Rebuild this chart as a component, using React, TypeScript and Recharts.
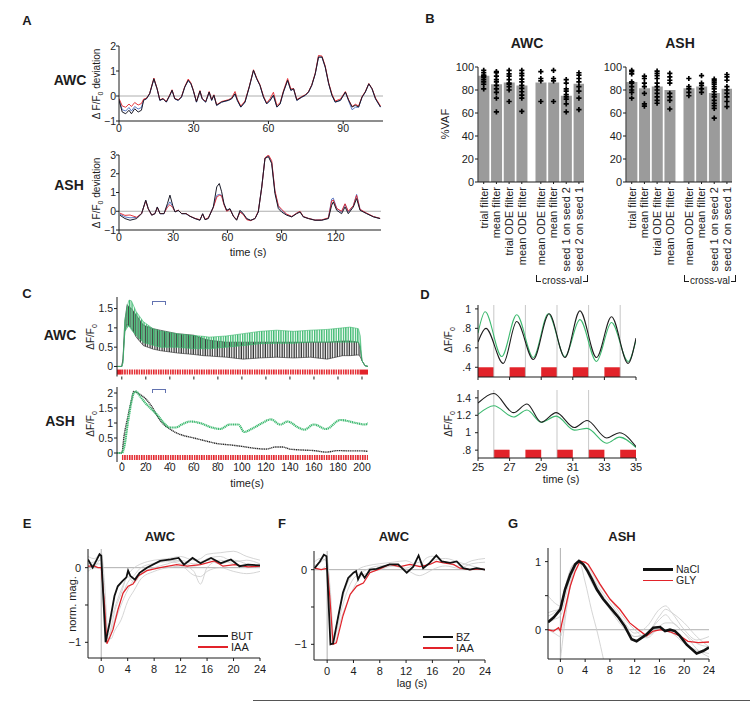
import React from 'react'
import {
  LineChart,
  Line,
  XAxis,
  YAxis,
  ReferenceLine,
  ReferenceArea,
  ComposedChart,
  Bar,
  Scatter,
  Area,
} from 'recharts'

const FONT = '"Liberation Sans", Arial, Helvetica, sans-serif'
const INK = '#1c1c1c'
const RED = '#e2232a'
const GREEN = '#3cb96f'
const BLUE = '#4a6cc0'
const GREY = '#cacaca'
const ZERO = '#9a9a9a'

// ---------- A: model fits, time (s) vs dF/F0 deviation
const aAwcTime = [0, 1.3, 2.7, 4, 5, 6.3, 7.7, 9, 9.9, 11, 12.3, 14, 15.3, 16.4, 17.7, 19, 20.4, 21.3, 22.4, 23.8, 25.1, 26.4, 27.8, 28.9, 29.8, 31.1, 32.5, 33.4, 34.8, 36.2, 37.2, 38.1, 39.2, 41.2, 43.9, 45.2, 46.6, 47.5, 48.9, 50.6, 52.3, 54, 55.3, 56.6, 58, 59.3, 60.7, 62, 63.4, 64.7, 66, 67.7, 69, 70.1, 71.4, 73.4, 74.8, 76.1, 77.4, 78.8, 80.1, 81.5, 82.8, 84.2, 85.5, 86.8, 88.9, 90.9, 92.2, 93.6, 94.9, 96.2, 97.6, 98.9, 100.3, 101.6, 103, 105]
const aAwcBlack = [-0.17, -0.64, -0.71, -0.57, -0.71, -0.51, -0.64, -0.57, -0.17, -0.11, 0.09, 0.69, 0.29, -0.17, -0.11, -0.24, 0.03, 0.23, -0.11, -0.17, -0.04, 0.36, 0.63, 0.49, 0.23, -0.24, 0.2, -0.11, -0.24, 0.16, -0.17, 0.03, -0.37, -0.24, -0.17, -0.11, 0.09, -0.17, -0.44, -0.24, 0.36, 1.03, 0.69, 0.43, -0.04, -0.31, -0.17, 0.03, -0.44, -0.31, 0.16, 0.63, 0.23, 0.29, -0.17, -0.04, 0.03, 0.16, 0.43, 0.89, 1.56, 1.56, 1.16, 0.49, 0.03, -0.24, -0.17, 0.16, -0.17, -0.44, -0.37, -0.44, -0.04, 0.16, 0.49, 0.29, -0.11, -0.44]
const aAwcRed = [-0.1, -0.4, -0.45, -0.32, -0.42, -0.26, -0.36, -0.3, -0.12, -0.09, 0.1, 0.72, 0.3, -0.15, -0.1, -0.22, 0.05, 0.25, -0.1, -0.15, -0.02, 0.38, 0.68, 0.52, 0.25, -0.22, 0.22, -0.1, -0.22, 0.18, -0.15, 0.05, -0.35, -0.22, -0.15, -0.08, 0.18, -0.12, -0.4, -0.2, 0.38, 1.05, 0.72, 0.45, 0, -0.28, -0.1, 0.15, -0.38, -0.27, 0.2, 0.7, 0.28, 0.3, -0.14, -0.02, 0.05, 0.18, 0.45, 0.92, 1.62, 1.6, 1.2, 0.52, 0.08, -0.2, -0.12, 0.18, -0.15, -0.42, -0.33, -0.4, -0.02, 0.18, 0.5, 0.3, -0.08, -0.4]
const aAwcBlue = [-0.14, -0.55, -0.6, -0.46, -0.6, -0.42, -0.52, -0.46, -0.15, -0.12, 0.08, 0.67, 0.28, -0.18, -0.12, -0.25, 0.02, 0.22, -0.12, -0.18, -0.05, 0.35, 0.62, 0.48, 0.22, -0.25, 0.19, -0.12, -0.25, 0.15, -0.18, 0.02, -0.38, -0.25, -0.18, -0.12, 0.08, -0.18, -0.45, -0.25, 0.35, 1.02, 0.68, 0.42, -0.05, -0.32, -0.18, 0.02, -0.45, -0.32, 0.15, 0.62, 0.22, 0.28, -0.18, -0.05, 0.02, 0.15, 0.42, 0.88, 1.55, 1.55, 1.15, 0.48, 0.02, -0.25, -0.18, 0.15, -0.2, -0.55, -0.45, -0.45, -0.05, 0.15, 0.48, 0.28, -0.12, -0.45]

const aAshTime = [0.5, 3.3, 6.1, 9.8, 12.5, 14.8, 16.2, 18.1, 19.9, 21.2, 22.7, 24.9, 26.8, 28.2, 29.7, 31, 32.8, 34.7, 37.1, 39.3, 42.1, 44.8, 46.3, 47.6, 49.4, 52.2, 54.1, 55.5, 56.8, 58.1, 59.6, 61.4, 63.3, 65.1, 67, 68.8, 70.7, 72.9, 75.3, 77.1, 79, 80.8, 82.7, 84.5, 86.3, 88.2, 90, 92.8, 95.6, 98.3, 100.2, 102, 104.8, 108.5, 112.2, 115.9, 117.7, 118.6, 120.5, 123.2, 125.1, 126.9, 129.7, 131.5, 133.4, 137.1, 140.8, 144.5]
const aAshBlack = [-0.21, -0.39, -0.48, -0.39, -0.13, 0.59, 0.14, -0.21, -0.13, 0.23, -0.13, -0.13, 0.41, 0.86, 0.32, -0.04, 0.05, -0.13, -0.13, -0.27, -0.39, -0.48, -0.13, -0.45, -0.39, 0.23, 1.3, 1.48, 1.04, 0.41, 0.05, 0.14, -0.27, -0.48, 0.05, -0.13, -0.39, -0.48, -0.39, -0.04, 1.3, 2.82, 2.91, 2.55, 0.95, 0.14, -0.04, -0.21, -0.3, -0.13, -0.04, -0.3, -0.39, -0.48, -0.48, -0.39, 0.32, 0.5, 0.05, -0.13, 0.23, -0.13, 0.23, 0.68, 0.05, -0.13, -0.3, -0.39]
const aAshRed = [-0.1, -0.22, -0.2, -0.32, -0.12, 0.55, 0.12, -0.2, -0.12, 0.2, -0.12, -0.12, 0.22, 0.35, 0.2, -0.02, 0.06, -0.12, -0.12, -0.26, -0.38, -0.45, -0.15, -0.43, -0.35, 0.2, 0.75, 0.85, 0.82, 0.35, 0, 0.1, -0.25, -0.45, -0.05, -0.18, -0.45, -0.5, -0.38, 0, 1.25, 2.85, 3.0, 2.7, 1.1, 0.3, 0.1, -0.15, -0.28, -0.1, 0, -0.28, -0.38, -0.47, -0.46, -0.35, 0.55, 0.6, 0.15, 0, 0.4, 0, 0.3, 0.85, 0.1, -0.1, -0.28, -0.38]
const aAshBlue = [-0.15, -0.3, -0.35, -0.33, -0.12, 0.58, 0.13, -0.2, -0.13, 0.22, -0.13, -0.13, 0.3, 0.5, 0.25, -0.03, 0.05, -0.13, -0.13, -0.27, -0.39, -0.47, -0.14, -0.44, -0.37, 0.22, 0.85, 0.9, 0.85, 0.38, 0.03, 0.12, -0.26, -0.46, -0.02, -0.15, -0.42, -0.49, -0.38, -0.02, 1.28, 2.84, 2.95, 2.6, 1.05, 0.25, 0.05, -0.18, -0.29, -0.11, -0.02, -0.29, -0.38, -0.47, -0.47, -0.37, 0.65, 0.7, 0.15, -0.05, 0.38, -0.05, 0.3, 0.9, 0.1, -0.12, -0.29, -0.39]

// ---------- B: %VAF per model
const bNames = ['trial filter', 'mean filter', 'trial ODE filter', 'mean ODE filter', 'mean ODE filter', 'mean filter', 'seed 1 on seed 2', 'seed 2 on seed 1']
const bAwcVaf = [92.5, 85, 86.5, 84, 86.5, 86.5, 75, 85.5]
const bAshVaf = [87, 81.5, 83, 80, 81.5, 83, 77.5, 81]
const bAwcPts = [
  [97, 95, 93, 92, 91, 89, 87, 85, 81],
  [96, 95, 92, 89, 87, 84, 81, 78, 73, 61],
  [97, 94, 92, 89, 86, 85, 83, 80, 70],
  [97, 94.5, 92.5, 89.5, 87, 84, 81.5, 78.5, 75.5, 73, 61.5],
  [96, 90, 88, 70],
  [97, 90, 88, 70],
  [89, 86, 81, 79, 76, 74, 72, 68, 61],
  [95, 93, 90, 87, 83, 79, 73, 63],
]
const bAshPts = [
  [97, 96, 94, 87, 86, 83, 80, 78, 73],
  [92, 90, 86, 83, 77, 68, 66],
  [96.5, 94.5, 92.5, 90, 86, 83, 80, 77, 74, 71, 68.5],
  [94.5, 91.5, 88.5, 86, 77, 74, 71, 63.5],
  [90, 83, 81, 78, 75],
  [92.5, 86, 84, 81, 78],
  [89.5, 88, 86.5, 85, 83, 81, 78.5, 76, 74, 71, 68.5, 66.5, 64, 55.5],
  [93.5, 91.5, 88.5, 83, 80, 77, 74, 70, 65.5],
]

// ---------- C: long pulse train responses (oscillation envelope lo/hi)
const cAwcTime = [-4, 0, 1, 2.5, 4.4, 6, 8, 12, 18, 26, 32, 46, 60, 68, 73, 87, 101, 115, 129, 143, 157, 171, 184, 190, 197, 198.5, 200, 202.5, 205]
const cAwcGreenLo = [0, 0, 0.1, 0.9, 1.0, 1.05, 0.95, 0.8, 0.62, 0.55, 0.5, 0.5, 0.46, 0.46, 0.46, 0.5, 0.54, 0.59, 0.6, 0.6, 0.63, 0.63, 0.63, 0.63, 0.63, 0.5, 0.15, 0.02, 0]
const cAwcGreenHi = [0, 0, 0.1, 1.2, 1.55, 1.72, 1.7, 1.42, 1.16, 0.98, 0.92, 0.85, 0.8, 0.78, 0.76, 0.79, 0.85, 0.91, 0.94, 0.91, 0.94, 0.96, 1.0, 1.02, 0.98, 0.8, 0.15, 0.02, 0]
const cAwcBlackLo = [0, 0, 0.2, 0.9, 1.1, 1.05, 1.0, 0.76, 0.54, 0.45, 0.41, 0.35, 0.31, 0.28, 0.27, 0.24, 0.19, 0.22, 0.24, 0.22, 0.24, 0.19, 0.28, 0.28, 0.3, 0.25, 0.15, 0.02, 0]
const cAwcBlackHi = [0, 0, 0.2, 1.16, 1.6, 1.55, 1.5, 1.33, 1.07, 0.98, 0.94, 0.85, 0.81, 0.72, 0.68, 0.63, 0.63, 0.63, 0.63, 0.63, 0.63, 0.63, 0.66, 0.66, 0.63, 0.5, 0.15, 0.02, 0]

const cAshGreenTime = [-4, 0, 2, 5, 8, 10, 12, 15, 20, 25, 30, 35, 40, 45, 50, 57, 65, 75, 82, 90, 97, 102, 108, 117, 124, 132, 138, 147, 152, 160, 170, 182, 195, 202, 208]
const cAshGreen = [0, 0, 0.2, 1.0, 1.7, 2.0, 2.05, 1.9, 1.65, 1.45, 1.25, 1.0, 0.85, 0.85, 0.95, 1.05, 1.0, 0.85, 0.8, 0.95, 0.95, 0.7, 0.8, 1.0, 1.12, 0.95, 1.05, 0.85, 0.78, 0.95, 0.8, 1.1, 1.0, 0.95, 1.05]
const cAshBlackTime = [-4, 0, 2, 5, 8, 10, 14, 20, 25, 30, 35, 40, 45, 50, 60, 70, 80, 90, 100, 110, 120, 128, 134, 140, 150, 160, 170, 180, 190, 200, 208]
const cAshBlack = [0, 0, 0.6, 1.2, 1.75, 2.05, 1.98, 1.8, 1.55, 1.2, 0.95, 0.8, 0.68, 0.6, 0.5, 0.4, 0.31, 0.27, 0.22, 0.16, 0.13, 0.2, 0.2, 0.13, 0.1, 0.08, 0.03, 0.08, 0.07, 0.07, 0.04]

const cStimPeriod = 2
const cAwcStimSolid = [[-4, 0], [198, 205]]
const cAwcStimTrain = [0, 198]
const cAshStimTrain = [0, 205]
const cZoomWindow = [25, 35]

// ---------- D: zoom 25-35 s
const dTopGreenTime = [25, 25.45, 26.5, 27.45, 28.5, 29.45, 30.5, 31.45, 32.5, 33.45, 34.5, 35]
const dTopGreen = [0.75, 0.97, 0.51, 0.94, 0.5, 0.95, 0.51, 0.89, 0.46, 0.86, 0.46, 0.68]
const dTopBlackTime = [25, 25.5, 26.6, 27.45, 28.5, 29.5, 30.5, 31.45, 32.5, 33.45, 34.5, 35]
const dTopBlack = [0.66, 0.8, 0.44, 0.87, 0.48, 0.95, 0.5, 0.98, 0.5, 0.92, 0.44, 0.7]
const dBotTime = [25, 26, 27.25, 28.1, 29, 29.95, 31.1, 31.9, 33.15, 33.95, 35]
const dBotBlack = [1.34, 1.45, 1.23, 1.33, 1.12, 1.23, 1.06, 1.14, 0.94, 1.0, 0.84]
const dBotGreen = [1.21, 1.31, 1.18, 1.26, 1.12, 1.19, 1.03, 1.05, 0.88, 0.95, 0.83]
const dTopPulses = [25, 27, 29, 31, 33]
const dBotPulses = [26, 28, 30, 32, 34]
const dTopMarks = [26, 28, 30, 32, 34]
const dBotMarks = [26, 30, 32]

// ---------- E/F/G: impulse responses (lag s, normalised magnitude)
const eButLag = [-2, -1.3, -0.77, -0.26, 0, 0.66, 1.27, 2.0, 2.5, 3.2, 3.8, 4.06, 4.4, 5.1, 5.8, 6.9, 8.9, 10.5, 11.7, 12.5, 13.8, 15, 16.6, 18.1, 19.6, 20.9, 22.2, 24]
const eBut = [0.11, 0, 0.09, 0.18, 0.16, -1.0, -0.74, -0.38, -0.25, -0.18, -0.13, -0.04, -0.11, -0.16, -0.07, 0, 0.09, 0.11, 0.13, 0.04, 0.13, 0.06, 0.13, 0.06, 0.11, 0.02, 0.04, 0.03]
const eIaaLag = [-2, -1, -0.5, 0, 0.5, 0.86, 1.78, 2.54, 3.3, 4.06, 4.8, 5.6, 6.9, 8.9, 11.4, 13, 15, 17.1, 18.4, 20.2, 22.2, 24]
const eIaa = [0.02, 0.02, 0, 0, -0.5, -1.02, -0.83, -0.56, -0.34, -0.25, -0.22, -0.11, -0.04, 0, 0.04, 0.02, 0.04, 0.09, 0.02, 0.04, 0.01, 0.02]
const efGreyLag = [-2, -1, 0, 0.5, 1, 1.5, 2, 3, 4, 5, 6, 8, 10, 12, 14, 15, 16, 18, 20, 22, 24]
const eGrey = [
  [0.05, 0.08, 0.1, -0.6, -1.0, -0.9, -0.75, -0.5, -0.3, -0.15, -0.05, 0.05, 0.08, 0.05, -0.05, -0.22, 0, 0.1, 0.05, 0, 0.02],
  [0.15, 0.12, 0.2, -0.2, -0.85, -0.7, -0.55, -0.3, -0.1, 0, 0.05, 0.1, 0.12, 0.15, 0.1, 0.12, 0.18, 0.2, 0.22, 0.15, 0.1],
  [-0.05, 0, 0, -0.5, -0.95, -0.95, -0.85, -0.7, -0.45, -0.3, -0.15, -0.05, 0, 0.02, -0.1, -0.12, -0.05, 0, -0.05, -0.08, -0.05],
  [0, 0.05, 0.05, -0.7, -0.95, -0.8, -0.6, -0.35, -0.12, -0.2, -0.08, 0, 0.05, 0.1, 0.05, 0.08, 0.1, 0.05, 0.1, 0.05, 0],
  [0.1, 0.02, 0.12, -0.4, -0.9, -0.85, -0.7, -0.42, -0.2, -0.1, 0, 0.06, 0.1, 0.08, 0.02, 0.05, 0.12, 0.15, 0.08, 0.1, 0.05],
]
const fBzLag = [-1.9, -1.1, -0.5, -0.1, 0.5, 0.9, 1.7, 2.4, 3.2, 4.0, 4.4, 4.7, 5.2, 5.7, 6.5, 7.5, 8.5, 9.5, 10.8, 12.1, 13.1, 13.9, 14.6, 15.6, 16.6, 17.4, 18.7, 19.7, 20.7, 21.7, 22.7, 24]
const fBz = [0.02, 0.11, 0.2, 0.18, -1.0, -0.99, -0.62, -0.31, -0.11, -0.04, -0.02, -0.13, -0.04, -0.11, 0, 0.01, 0.04, 0.07, 0.07, -0.04, 0.04, 0.19, 0.02, 0.09, 0.19, 0.11, 0.09, 0.11, 0.02, 0, 0.02, 0]
const fIaaLag = [-1.9, -0.9, 0, 0.4, 0.9, 1.4, 2.4, 3.5, 4.5, 5.5, 6.5, 8, 9.5, 11.1, 12.6, 14.1, 15.6, 16.6, 17.7, 19.2, 20.2, 21.7, 23.2, 24]
const fIaa = [0.02, 0, 0.02, -0.36, -1.0, -0.98, -0.62, -0.33, -0.22, -0.18, -0.04, 0.01, 0.07, 0.04, 0.07, 0.04, 0.07, 0.11, 0.09, 0.07, 0.02, 0, 0.01, 0]
const fGrey = [
  [0.05, 0.1, 0.15, -0.5, -0.95, -0.8, -0.6, -0.3, -0.12, -0.05, 0, 0.05, 0.05, 0.02, 0.1, 0.05, 0.12, 0.15, 0.1, 0.05, 0],
  [0, 0, 0.05, -0.7, -1.0, -0.9, -0.7, -0.45, -0.25, -0.1, -0.05, 0, 0.05, 0, -0.08, -0.05, 0, 0.05, 0.02, 0.08, 0.1],
  [0.1, 0.15, 0.1, -0.3, -0.9, -0.7, -0.5, -0.2, -0.05, 0.02, 0.05, 0.08, 0.1, 0.12, 0.05, 0.15, 0.18, 0.1, 0.05, 0.12, 0.15],
]
const gNaclLag = [-2, -1.1, 0, 0.75, 1.6, 2.4, 3.0, 3.7, 4.4, 5.1, 5.9, 6.9, 8.3, 9.4, 10.4, 11.5, 12.3, 13.1, 13.9, 15, 16.1, 16.9, 17.7, 18.5, 19.3, 20.4, 22, 23.1, 24]
const gNacl = [0.11, 0.18, 0.3, 0.59, 0.81, 0.96, 1.01, 0.96, 0.86, 0.74, 0.59, 0.45, 0.3, 0.18, 0.05, -0.14, -0.17, -0.12, -0.07, 0.03, 0.04, -0.02, 0, -0.02, -0.09, -0.22, -0.35, -0.31, -0.26]
const gGlyLag = [-2, -1.1, -0.3, 0, 0.2, 0.75, 1.6, 2.4, 3.2, 4.0, 4.5, 5.3, 6.4, 8, 9.6, 11.2, 12.6, 13.9, 15, 16.3, 17.7, 19.3, 20.6, 22.3, 24]
const gGly = [0, -0.02, 0.03, -0.02, 0.08, 0.3, 0.64, 0.86, 1.01, 0.99, 0.96, 0.84, 0.67, 0.45, 0.3, 0.1, 0, -0.09, -0.02, 0, -0.03, -0.09, -0.17, -0.19, -0.18]
const gGreyLag = [-2, -1, 0, 1, 2, 3, 4, 5, 6, 7, 8, 10, 12, 14, 16, 17, 18, 20, 22, 24]
const gGrey = [
  [0.2, 0.25, 0.35, 0.7, 0.95, 1.0, 0.7, 0.3, -0.05, -0.45, null, null, null, null, null, null, null, null, null, null],
  [null, null, -0.45, 0.3, 0.8, 0.98, 0.9, 0.7, 0.55, 0.45, 0.3, 0.05, -0.1, -0.05, 0.2, 0.3, 0.25, 0.1, -0.1, -0.25],
  [0.5, 0.4, 0.35, 0.7, 0.95, 1.0, 0.95, 0.8, 0.65, 0.52, 0.4, 0.15, -0.05, 0.05, 0.3, 0.35, 0.25, 0, -0.15, -0.1],
  [0.1, 0.15, 0.2, 0.55, 0.9, 1.0, 0.9, 0.72, 0.55, 0.42, 0.3, 0.1, -0.15, -0.1, 0, -0.02, -0.05, -0.2, -0.3, -0.35],
  [0.25, 0.28, 0.3, 0.65, 0.92, 0.98, 1.0, 0.85, 0.7, 0.57, 0.45, 0.2, 0, -0.12, 0.05, 0.1, 0.1, -0.05, -0.2, -0.25],
  [0, -0.05, -0.1, 0.4, 0.85, 1.0, 0.95, 0.8, 0.62, 0.48, 0.35, 0.12, -0.1, -0.05, 0.15, 0.22, 0.12, -0.05, -0.28, -0.4],
]

// ---------- layout helpers
type Box = { x: number; y: number; w: number; h: number }
const YW = 40
const PAD = 6
const frame = (b: Box, xh: number) => ({
  width: b.w + YW + PAD,
  height: b.h + PAD + xh,
  margin: { top: PAD, right: PAD, left: 0, bottom: 0 },
})
const at = (b: Box): React.CSSProperties => ({ position: 'absolute', left: b.x - YW, top: b.y - PAD })
const pxOf = (b: Box, dom: number[], t: number) => b.x + ((t - dom[0]) / (dom[1] - dom[0])) * b.w

const tickFont = (size: number) => ({ fontSize: size, fill: INK, fontFamily: FONT })
const ax = { stroke: INK, strokeWidth: 1 }
const minus = (v: number) => (v < 0 ? '\u2212' + Math.abs(v) : String(v))
const dotFmt = (v: number) => (Number.isInteger(v) ? String(v) : String(v).replace(/^0\./, '.'))
const zip = (xs: number[], ys: (number | null)[]) => xs.map((t, i) => ({ t, v: ys[i] }))

function Txt({ x, y, size = 11, bold = false, rot = false, children }: { x: number; y: number; size?: number; bold?: boolean; rot?: boolean; children: React.ReactNode }) {
  return (
    <div
      style={{
        position: 'absolute',
        left: x,
        top: y,
        transform: `translate(-50%, -50%)${rot ? ' rotate(-90deg)' : ''}`,
        fontSize: size,
        fontWeight: bold ? 700 : 400,
        whiteSpace: 'nowrap',
        lineHeight: 1,
        color: INK,
      }}
    >
      {children}
    </div>
  )
}

const Sub = ({ children }: { children: React.ReactNode }) => (
  <span style={{ fontSize: '0.7em', verticalAlign: '-0.3em' }}>{children}</span>
)

function Key({ x, y, color, width, label, size = 11 }: { x: number; y: number; color: string; width: number; label: string; size?: number }) {
  return (
    <>
      <div style={{ position: 'absolute', left: x, top: y - width / 2, width: 30, height: width, background: color }} />
      <div style={{ position: 'absolute', left: x + 33, top: y - 4.5, fontSize: size, lineHeight: '9px', color: INK }}>{label}</div>
    </>
  )
}

// ---------- boxes (plot areas)
const A1: Box = { x: 119, y: 46, w: 264, h: 75 }
const A2: Box = { x: 119, y: 155, w: 262, h: 75 }
const B1: Box = { x: 478, y: 67, w: 106, h: 115 }
const B2: Box = { x: 626, y: 67, w: 106, h: 115 }
const C1: Box = { x: 117, y: 296.5, w: 251, h: 79.5 }
const C2: Box = { x: 117, y: 387, w: 251, h: 75 }
const D1: Box = { x: 478, y: 305, w: 158, h: 72 }
const D2: Box = { x: 478, y: 390, w: 158, h: 68 }
const E1: Box = { x: 88, y: 549, w: 172, h: 109 }
const F1: Box = { x: 314, y: 551, w: 171, h: 109 }
const G1: Box = { x: 548, y: 548, w: 161, h: 111 }

const cDom = [-4, 205]
const cK = C1.w / (cDom[1] - cDom[0])
const stimW = cStimPeriod * cK
const stimX0 = YW + (0 - cDom[0]) * cK

// B helpers
const bSlot = bNames.map((_, i) => i + 1 + (i >= 4 ? 0.5 : 0))
const bRows = (vals: number[]) => vals.map((v, i) => ({ pos: bSlot[i], vaf: v }))
const bScatter = (pts: number[][]) => pts.flatMap((arr, i) => arr.map((v) => ({ pos: bSlot[i], vaf: v })))

const Plus = (p: any) => (
  <path d={`M${p.cx - 2.6},${p.cy}h5.2M${p.cx},${p.cy - 2.6}v5.2`} stroke="#000" strokeWidth={1.7} />
)

const RotTick = (p: any) => {
  const i = bSlot.indexOf(p.payload.value)
  return (
    <text x={p.x} y={p.y} transform={`rotate(-90 ${p.x} ${p.y})`} textAnchor="end" dx={-1} dy="0.36em" fontSize={11} fontFamily={FONT} fill={INK}>
      {bNames[i]}
    </text>
  )
}

function VafChart({ box, vals, pts }: { box: Box; vals: number[]; pts: number[][] }) {
  return (
    <div style={at(box)}>
      <ComposedChart {...frame(box, 100)} data={bRows(vals)}>
        <XAxis type="number" dataKey="pos" domain={[0.55, 8.9]} ticks={bSlot} interval={0} allowDataOverflow height={100} tickSize={2} tickMargin={2} tick={<RotTick />} axisLine={ax} tickLine={ax} />
        <YAxis type="number" domain={[0, 100]} ticks={[0, 20, 40, 60, 80, 100]} interval={0} width={YW} tickSize={3} tickMargin={1} tick={tickFont(11)} axisLine={ax} tickLine={ax} />
        <Bar dataKey="vaf" barSize={11} fill="#9b9b9b" isAnimationActive={false} />
        <Scatter data={bScatter(pts)} dataKey="vaf" shape={Plus} isAnimationActive={false} />
      </ComposedChart>
    </div>
  )
}

function CrossVal({ x0, x1 }: { x0: number; x1: number }) {
  const mid = (x0 + x1) / 2
  return (
    <>
      <div style={{ position: 'absolute', left: x0, top: 275, width: 4, height: 6, borderLeft: `1px solid ${INK}`, borderBottom: `1px solid ${INK}` }} />
      <div style={{ position: 'absolute', left: x1 - 5, top: 275, width: 4, height: 6, borderRight: `1px solid ${INK}`, borderBottom: `1px solid ${INK}` }} />
      <Txt x={mid} y={281} size={10}>cross-val</Txt>
    </>
  )
}

function Bracket({ y }: { y: number }) {
  const l = pxOf(C1, cDom, cZoomWindow[0])
  const r = pxOf(C1, cDom, cZoomWindow[1])
  return <div style={{ position: 'absolute', left: l, top: y, width: r - l, height: 3, borderTop: '1.3px solid #6272b0', borderLeft: '1.3px solid #6272b0', borderRight: '1.3px solid #6272b0' }} />
}

function IrfChart({ box, yDom, yTicks, grey, greyLag, main, xh }: { box: Box; yDom: number[]; yTicks: number[]; grey: (number | null)[][]; greyLag: number[]; main: { lag: number[]; v: number[]; color: string; w: number }[]; xh: number }) {
  return (
    <div style={at(box)}>
      <LineChart {...frame(box, xh)}>
        <XAxis type="number" dataKey="t" domain={[-2, 24]} ticks={[0, 4, 8, 12, 16, 20, 24]} interval={0} allowDataOverflow height={xh} tickSize={3} tickMargin={4} tick={tickFont(11)} axisLine={ax} tickLine={ax} />
        <YAxis type="number" domain={yDom} ticks={yTicks} interval={0} allowDataOverflow width={YW} tickSize={3} tickMargin={4} tick={tickFont(11)} tickFormatter={(v: number) => (v === 0.5 || v === -0.5 ? '' : minus(v))} axisLine={ax} tickLine={ax} />
        <ReferenceLine x={0} stroke={ZERO} strokeWidth={0.8} />
        <ReferenceLine y={0} stroke={ZERO} strokeWidth={0.8} />
        {grey.map((g, i) => (
          <Line key={'g' + i} data={zip(greyLag, g)} dataKey="v" type="monotone" stroke={GREY} strokeWidth={0.8} dot={false} isAnimationActive={false} />
        ))}
        {main.map((m, i) => (
          <Line key={'m' + i} data={zip(m.lag, m.v)} dataKey="v" type="linear" stroke={m.color} strokeWidth={m.w} dot={false} isAnimationActive={false} />
        ))}
      </LineChart>
    </div>
  )
}

export default function App() {
  const aAwcRows = aAwcTime.map((t, i) => ({ t, k: aAwcBlack[i], r: aAwcRed[i], b: aAwcBlue[i] }))
  const aAshRows = aAshTime.map((t, i) => ({ t, k: aAshBlack[i], r: aAshRed[i], b: aAshBlue[i] }))
  const cAwcRows = cAwcTime.map((t, i) => ({ t, g: [cAwcGreenLo[i], cAwcGreenHi[i]], k: [cAwcBlackLo[i], cAwcBlackHi[i]] }))

  const aX = (dom: number[], ticks: number[]) => (
    <XAxis type="number" dataKey="t" domain={dom} ticks={ticks} interval={0} allowDataOverflow height={24} tickSize={3} tickMargin={1} tick={tickFont(10.5)} axisLine={ax} tickLine={ax} />
  )

  return (
    <div style={{ position: 'absolute', left: 0, top: 0, width: 750, height: 702, overflow: 'hidden', background: '#fff', fontFamily: FONT }}>
      <svg width={0} height={0} style={{ position: 'absolute' }}>
        <defs>
          <pattern id="stim" x={stimX0} y={0} width={stimW} height={20} patternUnits="userSpaceOnUse">
            <rect x={0} y={0} width={stimW * 0.62} height={20} fill={RED} />
          </pattern>
          <pattern id="oscG" x={stimX0} y={0} width={stimW} height={20} patternUnits="userSpaceOnUse">
            <rect x={0} y={0} width={stimW * 0.55} height={20} fill={GREEN} />
          </pattern>
          <pattern id="oscK" x={stimX0} y={0} width={stimW} height={20} patternUnits="userSpaceOnUse">
            <rect x={stimW * 0.5} y={0} width={stimW * 0.5} height={20} fill="#333" />
          </pattern>
        </defs>
      </svg>

      {/* ---------------- A ---------------- */}
      <Txt x={27} y={20} size={13} bold>A</Txt>
      <Txt x={70} y={80} size={14} bold>AWC</Txt>
      <Txt x={69} y={185} size={14} bold>ASH</Txt>
      <Txt x={98} y={84} size={10} rot>Δ F/F<Sub>0</Sub> deviation</Txt>
      <Txt x={98} y={193} size={10} rot>Δ F/F<Sub>0</Sub> deviation</Txt>
      <Txt x={248} y={252} size={11}>time (s)</Txt>
      <div style={at(A1)}>
        <LineChart {...frame(A1, 24)} data={aAwcRows}>
          {aX([0, 106], [0, 30, 60, 90])}
          <YAxis type="number" domain={[-1, 2]} ticks={[-1, 0, 1, 2]} interval={0} allowDataOverflow width={YW} tickSize={3} tickMargin={0} tick={tickFont(10.5)} tickFormatter={minus} axisLine={ax} tickLine={ax} />
          <ReferenceLine y={0} stroke={ZERO} strokeWidth={0.8} />
          <Line dataKey="b" stroke={BLUE} strokeWidth={0.9} dot={false} isAnimationActive={false} />
          <Line dataKey="r" stroke={RED} strokeWidth={0.9} dot={false} isAnimationActive={false} />
          <Line dataKey="k" stroke="#1a1a28" strokeWidth={1} dot={false} isAnimationActive={false} />
        </LineChart>
      </div>
      <div style={at(A2)}>
        <LineChart {...frame(A2, 24)} data={aAshRows}>
          {aX([0, 145], [0, 30, 60, 90, 120])}
          <YAxis type="number" domain={[-1, 3]} ticks={[-1, 0, 1, 2, 3]} interval={0} allowDataOverflow width={YW} tickSize={3} tickMargin={0} tick={tickFont(10.5)} tickFormatter={minus} axisLine={ax} tickLine={ax} />
          <ReferenceLine y={0} stroke={ZERO} strokeWidth={0.8} />
          <Line dataKey="b" stroke={BLUE} strokeWidth={0.9} dot={false} isAnimationActive={false} />
          <Line dataKey="r" stroke={RED} strokeWidth={0.9} dot={false} isAnimationActive={false} />
          <Line dataKey="k" stroke="#1a1a28" strokeWidth={1} dot={false} isAnimationActive={false} />
        </LineChart>
      </div>

      {/* ---------------- B ---------------- */}
      <Txt x={430} y={18} size={13} bold>B</Txt>
      <Txt x={527} y={43} size={14} bold>AWC</Txt>
      <Txt x={680} y={43} size={14} bold>ASH</Txt>
      <Txt x={445} y={124} size={11} rot>%VAF</Txt>
      <VafChart box={B1} vals={bAwcVaf} pts={bAwcPts} />
      <VafChart box={B2} vals={bAshVaf} pts={bAshPts} />
      <CrossVal x0={536} x1={588} />
      <CrossVal x0={684} x1={736} />

      {/* ---------------- C ---------------- */}
      <Txt x={27} y={293} size={13} bold>C</Txt>
      <Txt x={60} y={335} size={14} bold>AWC</Txt>
      <Txt x={60} y={421} size={14} bold>ASH</Txt>
      <Txt x={92} y={337} size={10} rot>ΔF/F<Sub>0</Sub></Txt>
      <Txt x={92} y={424} size={10} rot>ΔF/F<Sub>0</Sub></Txt>
      <Txt x={247} y={483} size={11}>time(s)</Txt>
      <Bracket y={301} />
      <Bracket y={389} />
      <div style={at(C1)}>
        <ComposedChart {...frame(C1, 10)} data={cAwcRows}>
          <XAxis type="number" dataKey="t" domain={cDom} ticks={[0, 20, 40, 60, 80, 100, 120, 140, 160, 180, 200]} interval={0} allowDataOverflow height={10} tickSize={3} tickFormatter={() => ''} axisLine={false} tickLine={ax} />
          <YAxis type="number" domain={[-0.26, 1.8]} ticks={[0, 0.5, 1, 1.5]} interval={0} allowDataOverflow width={YW} tickSize={3} tickMargin={1} tick={tickFont(10.5)} axisLine={ax} tickLine={ax} />
          {cAwcStimSolid.map(([a, b], i) => (
            <ReferenceArea key={i} x1={a} x2={b} y1={-0.21} y2={-0.08} fill={RED} fillOpacity={1} stroke="none" />
          ))}
          <ReferenceArea x1={cAwcStimTrain[0]} x2={cAwcStimTrain[1]} y1={-0.21} y2={-0.08} fill="url(#stim)" fillOpacity={1} stroke="none" />
          <Area dataKey="k" type="linear" stroke="#2a2a2a" strokeWidth={0.6} fill="url(#oscK)" fillOpacity={1} dot={false} activeDot={false} isAnimationActive={false} />
          <Area dataKey="g" type="linear" stroke={GREEN} strokeWidth={0.6} fill="url(#oscG)" fillOpacity={1} dot={false} activeDot={false} isAnimationActive={false} />
        </ComposedChart>
      </div>
      <div style={at(C2)}>
        <ComposedChart {...frame(C2, 20)}>
          <XAxis type="number" dataKey="t" domain={cDom} ticks={[0, 20, 40, 60, 80, 100, 120, 140, 160, 180, 200]} interval={0} allowDataOverflow height={20} tickSize={2} tickMargin={0} tick={tickFont(10.5)} axisLine={false} tickLine={ax} />
          <YAxis type="number" domain={[-0.3, 2.2]} ticks={[0, 0.5, 1, 1.5, 2]} interval={0} allowDataOverflow width={YW} tickSize={3} tickMargin={1} tick={tickFont(10.5)} axisLine={ax} tickLine={ax} />
          <ReferenceArea x1={cAshStimTrain[0]} x2={cAshStimTrain[1]} y1={-0.23} y2={-0.07} fill="url(#stim)" fillOpacity={1} stroke="none" />
          <Line data={zip(cAshBlackTime, cAshBlack)} dataKey="v" type="monotone" stroke="#2a2a2a" strokeWidth={1.4} strokeDasharray="1.2 0.6" dot={false} isAnimationActive={false} />
          <Line data={zip(cAshGreenTime, cAshGreen)} dataKey="v" type="monotone" stroke={GREEN} strokeWidth={2.2} strokeDasharray="1.2 0.6" dot={false} isAnimationActive={false} />
        </ComposedChart>
      </div>

      {/* ---------------- D ---------------- */}
      <Txt x={425} y={294} size={13} bold>D</Txt>
      <Txt x={450} y={340} size={10} rot>ΔF/F<Sub>0</Sub></Txt>
      <Txt x={450} y={424} size={10} rot>ΔF/F<Sub>0</Sub></Txt>
      <Txt x={561} y={479} size={11}>time (s)</Txt>
      <div style={at(D1)}>
        <LineChart {...frame(D1, 10)}>
          <XAxis type="number" dataKey="t" domain={[25, 35]} ticks={[25, 27, 29, 31, 33, 35]} interval={0} allowDataOverflow height={10} tickSize={3} tickFormatter={() => ''} axisLine={ax} tickLine={ax} />
          <YAxis type="number" domain={[0.3, 1.04]} ticks={[0.4, 0.6, 0.8, 1]} interval={0} allowDataOverflow width={YW} tickSize={3} tickMargin={4} tick={tickFont(10.5)} tickFormatter={dotFmt} axisLine={ax} tickLine={ax} />
          {dTopMarks.map((m) => (
            <ReferenceLine key={m} x={m} stroke="#b9b9b9" strokeWidth={0.8} />
          ))}
          {dTopPulses.map((p) => (
            <ReferenceArea key={p} x1={p} x2={p + 1} y1={0.3} y2={0.4} fill={RED} fillOpacity={1} stroke="none" />
          ))}
          <Line data={zip(dTopGreenTime, dTopGreen)} dataKey="v" type="monotone" stroke={GREEN} strokeWidth={1.1} dot={false} isAnimationActive={false} />
          <Line data={zip(dTopBlackTime, dTopBlack)} dataKey="v" type="monotone" stroke="#1e1e1e" strokeWidth={1.1} dot={false} isAnimationActive={false} />
        </LineChart>
      </div>
      <div style={at(D2)}>
        <LineChart {...frame(D2, 20)}>
          <XAxis type="number" dataKey="t" domain={[25, 35]} ticks={[25, 27, 29, 31, 33, 35]} interval={0} allowDataOverflow height={20} tickSize={3} tickMargin={2} tick={tickFont(11)} axisLine={ax} tickLine={ax} />
          <YAxis type="number" domain={[0.71, 1.49]} ticks={[0.8, 1, 1.2, 1.4]} interval={0} allowDataOverflow width={YW} tickSize={3} tickMargin={4} tick={tickFont(10.5)} tickFormatter={dotFmt} axisLine={ax} tickLine={ax} />
          {dBotMarks.map((m) => (
            <ReferenceLine key={m} x={m} stroke="#b9b9b9" strokeWidth={0.8} />
          ))}
          {dBotPulses.map((p) => (
            <ReferenceArea key={p} x1={p} x2={p + 1} y1={0.71} y2={0.805} fill={RED} fillOpacity={1} stroke="none" />
          ))}
          <Line data={zip(dBotTime, dBotGreen)} dataKey="v" type="monotone" stroke={GREEN} strokeWidth={1.1} dot={false} isAnimationActive={false} />
          <Line data={zip(dBotTime, dBotBlack)} dataKey="v" type="monotone" stroke="#1e1e1e" strokeWidth={1.1} dot={false} isAnimationActive={false} />
        </LineChart>
      </div>

      {/* ---------------- E / F / G ---------------- */}
      <Txt x={27} y={523} size={13} bold>E</Txt>
      <Txt x={282} y={523} size={13} bold>F</Txt>
      <Txt x={513} y={523} size={13} bold>G</Txt>
      <Txt x={160} y={536} size={13} bold>AWC</Txt>
      <Txt x={394} y={536} size={13} bold>AWC</Txt>
      <Txt x={622} y={536} size={13} bold>ASH</Txt>
      <Txt x={72} y={604} size={11} rot>norm. mag.</Txt>
      <Txt x={412} y={683} size={11}>lag (s)</Txt>
      <IrfChart box={E1} yDom={[-1.21, 0.25]} yTicks={[-1, -0.5, 0]} grey={eGrey} greyLag={efGreyLag} xh={24}
        main={[{ lag: eIaaLag, v: eIaa, color: RED, w: 1.2 }, { lag: eButLag, v: eBut, color: '#111', w: 1.8 }]} />
      <IrfChart box={F1} yDom={[-1.21, 0.25]} yTicks={[-1, -0.5, 0]} grey={fGrey} greyLag={efGreyLag} xh={24}
        main={[{ lag: fIaaLag, v: fIaa, color: RED, w: 1.2 }, { lag: fBzLag, v: fBz, color: '#111', w: 1.8 }]} />
      <IrfChart box={G1} yDom={[-0.43, 1.2]} yTicks={[0, 0.5, 1]} grey={gGrey} greyLag={gGreyLag} xh={24}
        main={[{ lag: gGlyLag, v: gGly, color: RED, w: 1.3 }, { lag: gNaclLag, v: gNacl, color: '#111', w: 2.6 }]} />
      <Key x={198} y={636} color="#111" width={2} label="BUT" />
      <Key x={198} y={647} color={RED} width={1.5} label="IAA" />
      <Key x={423} y={637} color="#111" width={2} label="BZ" />
      <Key x={423} y={648} color={RED} width={1.5} label="IAA" />
      <Key x={643} y={569} color="#111" width={3} label="NaCl" size={10.5} />
      <Key x={643} y={580.5} color={RED} width={1.5} label="GLY" size={10.5} />
      <div style={{ position: 'absolute', left: 253, top: 700, width: 497, height: 1, background: '#555' }} />
    </div>
  )
}
